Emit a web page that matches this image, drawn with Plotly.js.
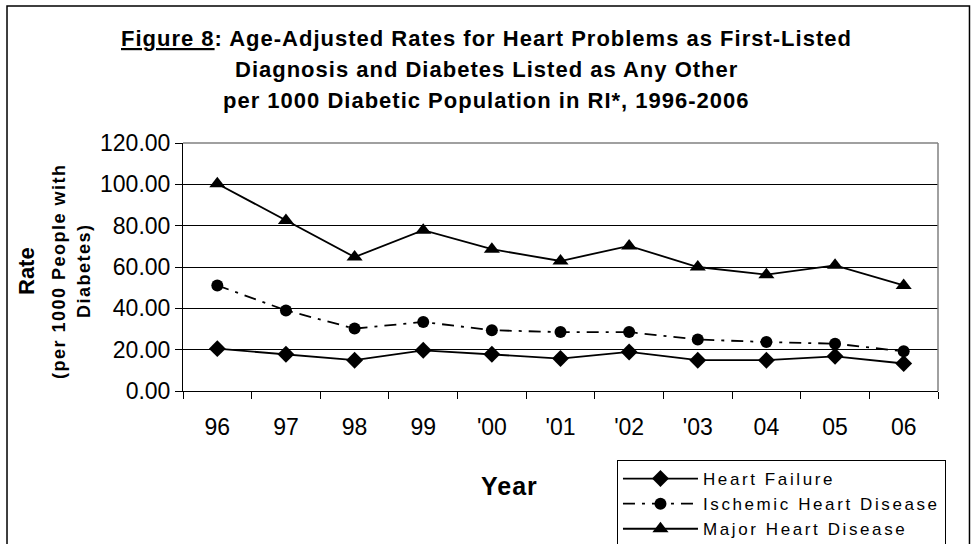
<!DOCTYPE html>
<html>
<head>
<meta charset="utf-8">
<script src="https://cdn.plot.ly/plotly-3.0.1.min.js"></script>
<style>
html, body { margin: 0; padding: 0; background: #fff; }
#chart { width: 971px; height: 544px; }
.legendtext { letter-spacing: 2.6px; }
</style>
</head>
<body>
<div id="chart"></div>
<script>
var years = ['96', '97', '98', '99', "'00", "'01", "'02", "'03", '04', '05', '06'];
var heartFailure = [20.5, 17.8, 14.9, 19.7, 17.8, 15.7, 18.9, 14.9, 14.9, 16.8, 13.3];
var ischemic = [51.1, 39.0, 30.2, 33.4, 29.4, 28.5, 28.5, 24.9, 23.7, 22.9, 19.2];
var majorHeart = [100.3, 82.5, 64.8, 77.8, 68.6, 62.9, 70.2, 60.0, 56.3, 60.8, 51.1];
var seriesNames = ['Heart Failure', 'Ischemic Heart Disease', 'Major Heart Disease'];
var titleLines = [
  '<span style="text-decoration:underline">Figure 8</span>: Age-Adjusted Rates for Heart Problems as First-Listed',
  'Diagnosis and Diabetes Listed as Any Other',
  'per 1000 Diabetic Population in RI*, 1996-2006'
];
var yTitleLines = ['Rate', '(per 1000 People with', 'Diabetes)'];
var xTitle = 'Year';

var FONT = 'Liberation Sans, Arial, sans-serif';

var traces = [
  {
    x: years, y: heartFailure, name: seriesNames[0], type: 'scatter', mode: 'lines+markers',
    line: { color: '#000', width: 1.8 },
    marker: { symbol: 'diamond', size: 13, color: '#000' }
  },
  {
    x: years, y: ischemic, name: seriesNames[1], type: 'scatter', mode: 'lines+markers',
    line: { color: '#000', width: 1.8, dash: '12px,7px,3px,7px' },
    marker: { symbol: 'circle', size: 12, color: '#000' }
  },
  {
    x: years, y: majorHeart, name: seriesNames[2], type: 'scatter', mode: 'lines+markers',
    line: { color: '#000', width: 1.8 },
    marker: { symbol: 'triangle-up', size: 14, color: '#000' }
  }
];

function ls(t, px) { return '<span style="letter-spacing:' + px + 'px">' + t + '</span>'; }

var annotations = [
  { text: ls(titleLines[0], 1), x: 0.4026, y: 1.4194, font: { size: 22, weight: 700 } },
  { text: ls(titleLines[1], 1), x: 0.4026, y: 1.2944, font: { size: 22, weight: 700 } },
  { text: ls(titleLines[2], 1), x: 0.4026, y: 1.1694, font: { size: 22, weight: 700 } },
  { text: yTitleLines[0], x: -0.2066, y: 0.4839, textangle: -90, font: { size: 22, weight: 700 } },
  { text: ls(yTitleLines[1], 1.5), x: -0.1642, y: 0.4839, textangle: -90, font: { size: 18, weight: 700 } },
  { text: ls(yTitleLines[2], 1.5), x: -0.1311, y: 0.4839, textangle: -90, font: { size: 18, weight: 700 } },
  { text: ls(xTitle, 1), x: 0.4318, y: -0.383, font: { size: 25, weight: 700 } }
].map(function (a) {
  a.xref = 'paper'; a.yref = 'paper'; a.showarrow = false;
  a.xanchor = 'center'; a.yanchor = 'middle';
  a.font.family = FONT; a.font.color = '#000';
  return a;
});

var layout = {
  width: 971, height: 544,
  margin: { l: 183, r: 33, t: 143, b: 153, autoexpand: false },
  paper_bgcolor: '#fff', plot_bgcolor: '#fff',
  font: { family: FONT, color: '#000' },
  showlegend: true,
  legend: {
    x: 0.5748, y: -0.2782, xanchor: 'left', yanchor: 'top',
    bgcolor: 'rgba(255,255,255,0)', bordercolor: '#000', borderwidth: 1,
    font: { size: 17, family: FONT, color: '#000' },
    itemwidth: 75, tracegroupgap: 0
  },
  xaxis: {
    type: 'category', tickson: 'boundaries', ticks: 'outside', ticklen: 7, tickcolor: '#000',
    showgrid: false, showline: true, linecolor: '#000', linewidth: 1, zeroline: false,
    tickfont: { size: 23, family: FONT, color: '#000' }, ticklabelstandoff: 15,
    range: [-0.5, 10.5], fixedrange: true
  },
  yaxis: {
    range: [0, 120], dtick: 20, tick0: 0, tickformat: '.2f', ticks: 'outside', ticklen: 7, tickcolor: '#000',
    showgrid: true, gridcolor: '#000', gridwidth: 1, zeroline: false,
    showline: true, linecolor: '#000', linewidth: 1,
    tickfont: { size: 23, family: FONT, color: '#000' }, fixedrange: true
  },
  annotations: annotations,
  shapes: [
    { type: 'line', xref: 'paper', yref: 'paper', x0: 0, x1: 1, y0: 1, y1: 1, line: { color: '#808080', width: 1.5 }, layer: 'above' },
    { type: 'line', xref: 'paper', yref: 'paper', x0: 1, x1: 1, y0: 0, y1: 1, line: { color: '#808080', width: 1.5 }, layer: 'above' },
    { type: 'rect', xref: 'paper', yref: 'paper', x0: -0.2331, x1: 1.0417, y0: -0.66, y1: 1.5524, line: { color: '#000', width: 1.5 }, layer: 'above' }
  ]
};

Plotly.newPlot('chart', traces, layout, { displayModeBar: false, staticPlot: true });
</script>
</body>
</html>
